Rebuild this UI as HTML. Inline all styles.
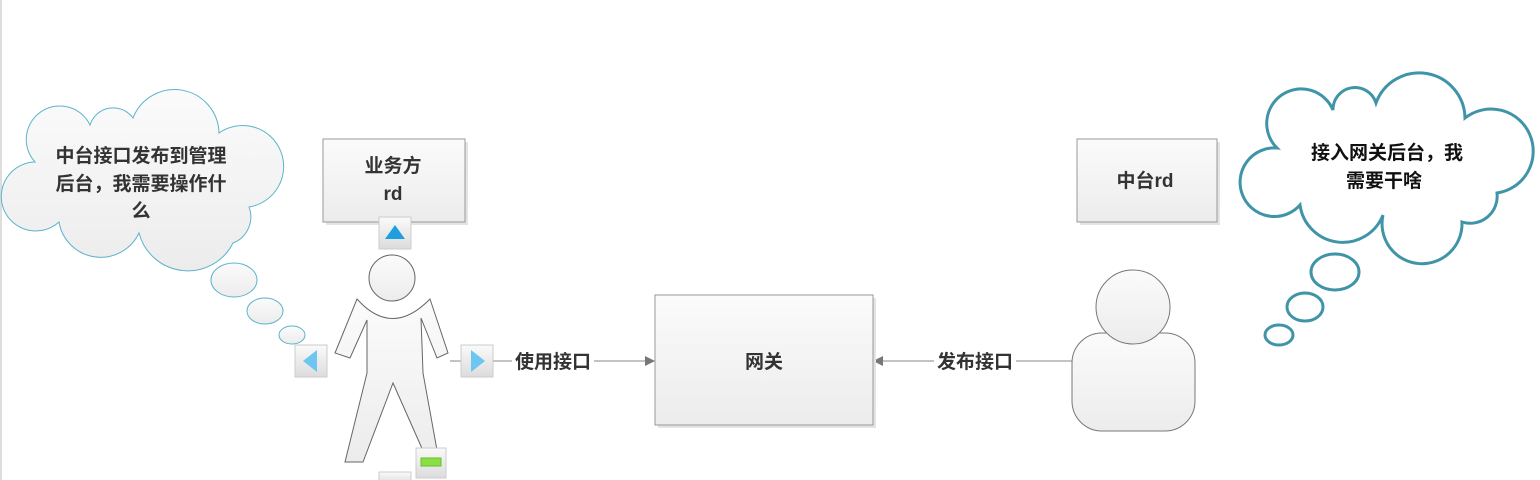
<!DOCTYPE html>
<html><head><meta charset="utf-8"><style>
html,body{margin:0;padding:0;background:#fff;}
svg{display:block;}
text{font-family:"Liberation Sans","Noto Sans CJK SC",sans-serif;font-weight:bold;fill:#333;font-size:19px;}
</style></head><body>
<svg width="1540" height="480" viewBox="0 0 1540 480" xmlns="http://www.w3.org/2000/svg">
<defs>
<linearGradient id="g" x1="0" y1="0" x2="0" y2="1"><stop offset="0" stop-color="#fbfbfb"/><stop offset="1" stop-color="#ececec"/></linearGradient>
<linearGradient id="ic" x1="0" y1="0" x2="0" y2="1"><stop offset="0" stop-color="#fafafa"/><stop offset="1" stop-color="#dcdcdc"/></linearGradient>
</defs>
<line x1="1" y1="0" x2="1" y2="480" stroke="#ddd" stroke-width="2"/>

<!-- left cloud -->
<path d="M35,162 A33.5,33.5 0 1 1 90,125 A24.3,24.3 0 0 1 133,118 A44.5,44.5 0 0 1 219,133 A41,41 0 1 1 249,207 A28,28 0 0 1 233,243 A50.5,50.5 0 0 1 139,233 A42.3,42.3 0 0 1 59,222 A34.5,34.5 0 1 1 35,162 Z" fill="url(#g)" stroke="#5bb3cc" stroke-width="1"/>
<ellipse cx="234" cy="280" rx="23" ry="17" fill="url(#g)" stroke="#5bb3cc"/>
<ellipse cx="265" cy="311" rx="18" ry="13" fill="url(#g)" stroke="#5bb3cc"/>
<ellipse cx="292" cy="335" rx="13" ry="9" fill="url(#g)" stroke="#5bb3cc"/>
<text x="141" y="162" text-anchor="middle">中台接口发布到管理</text>
<text x="141" y="190" text-anchor="middle">后台，我需要操作什</text>
<text x="141" y="217" text-anchor="middle">么</text>

<!-- 业务方 rd -->
<rect x="326" y="142" width="142" height="83" fill="#e4e4e4"/>
<rect x="323" y="139" width="142" height="83" fill="url(#g)" stroke="#999"/>
<text x="393" y="172" text-anchor="middle">业务方</text>
<text x="393" y="200" text-anchor="middle">rd</text>
<rect x="379" y="217" width="32" height="32" fill="url(#ic)" stroke="#ccc"/>
<polygon points="385,239 405,239 395,225" fill="#1ea0de"/>

<!-- stick person -->
<circle cx="392" cy="278" r="23" fill="url(#g)" stroke="#666"/>
<path d="M357,299 Q392,338 430,299 L448,353 L437,358 L421,318 L423,373 L437,450 L428,462 L393,383 L363,462 L345,462 L367,373 L367,320 L350,358 L335,353 Z" fill="url(#g)" stroke="#666"/>
<rect x="295" y="345" width="32" height="32" fill="url(#ic)" stroke="#ccc"/>
<polygon points="317,350 317,372 303,361" fill="#6cc6ef"/>
<line x1="450" y1="361" x2="655" y2="361" stroke="#888"/>
<rect x="461" y="345" width="32" height="32" fill="url(#ic)" stroke="#ccc"/>
<polygon points="471,350 471,372 485,361" fill="#6cc6ef"/>
<rect x="416" y="448" width="30" height="30" fill="url(#ic)" stroke="#ccc"/>
<rect x="421" y="458" width="20" height="8" fill="#88e044" stroke="#6cbd2c"/>
<rect x="379" y="472" width="32" height="12" fill="url(#ic)" stroke="#ccc"/>

<!-- connectors -->
<polygon points="655,361 645,356 645,366" fill="#777"/>
<rect x="512" y="349" width="82" height="24" fill="#fff"/>
<text x="553" y="368" text-anchor="middle">使用接口</text>
<line x1="873" y1="361" x2="1075" y2="361" stroke="#888"/>
<polygon points="873,361 883,356 883,366" fill="#777"/>
<rect x="934" y="349" width="82" height="24" fill="#fff"/>
<text x="975" y="368" text-anchor="middle">发布接口</text>

<!-- 网关 -->
<rect x="658" y="298" width="218" height="130" fill="#e4e4e4"/>
<rect x="655" y="295" width="218" height="130" fill="url(#g)" stroke="#999"/>
<text x="764" y="368" text-anchor="middle">网关</text>

<!-- 中台rd -->
<rect x="1080" y="142" width="140" height="83" fill="#e4e4e4"/>
<rect x="1077" y="139" width="140" height="83" fill="url(#g)" stroke="#999"/>
<text x="1145" y="187" text-anchor="middle">中台rd</text>

<!-- person 2 -->
<rect x="1072" y="333" width="123" height="98" rx="30" fill="url(#g)" stroke="#777"/>
<circle cx="1133" cy="307" r="37" fill="url(#g)" stroke="#777"/>

<!-- right cloud -->
<path d="M1277,148 A34.5,34.5 0 1 1 1333,110 A22,22 0 0 1 1376,103 A45.9,45.9 0 0 1 1465,118 A42.2,42.2 0 1 1 1497,193 A27,27 0 0 1 1462,222 A40,40 0 1 1 1383,215 A43.2,43.2 0 0 1 1300,205 A34.3,34.3 0 1 1 1277,148 Z" fill="#fff" stroke="#3f94a8" stroke-width="3"/>
<ellipse cx="1335" cy="272" rx="24" ry="18" fill="#fff" stroke="#3f94a8" stroke-width="3"/>
<ellipse cx="1305" cy="307" rx="18" ry="14" fill="#fff" stroke="#3f94a8" stroke-width="3"/>
<ellipse cx="1279" cy="335" rx="14" ry="10" fill="#fff" stroke="#3f94a8" stroke-width="3"/>
<text x="1387" y="159" text-anchor="middle" style="fill:#111">接入网关后台，我</text>
<text x="1384" y="187" text-anchor="middle" style="fill:#111">需要干啥</text>
</svg>
</body></html>
